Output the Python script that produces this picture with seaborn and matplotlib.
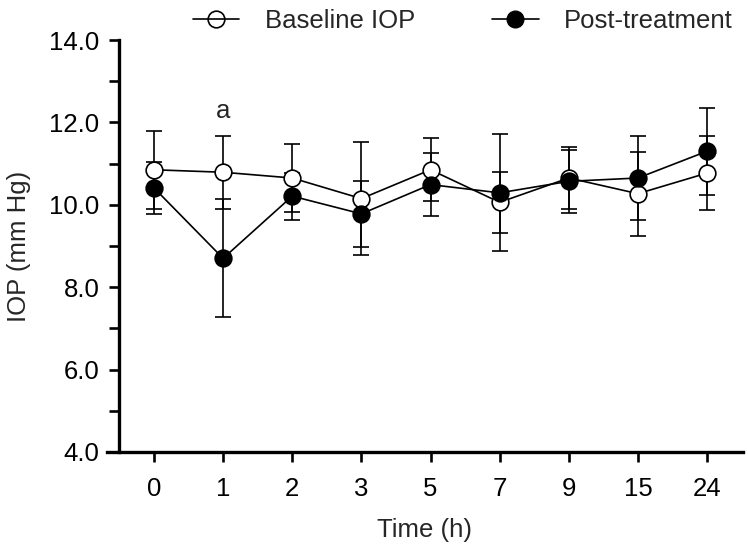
import numpy as np
import pandas as pd
import seaborn as sns
import matplotlib.pyplot as plt
from matplotlib.lines import Line2D
from matplotlib.ticker import MultipleLocator, FormatStrFormatter

# --- data (mean +/- SD) ---
time_labels = ["0", "1", "2", "3", "5", "7", "9", "15", "24"]
baseline_mean = [10.85, 10.79, 10.65, 10.15, 10.85, 10.06, 10.65, 10.27, 10.77]
baseline_sd = [0.95, 0.88, 0.83, 1.38, 0.77, 0.74, 0.75, 1.02, 0.89]
post_mean = [10.41, 8.70, 10.21, 9.78, 10.49, 10.29, 10.57, 10.65, 11.30]
post_sd = [0.64, 1.43, 0.57, 0.80, 0.76, 1.42, 0.77, 1.03, 1.06]
sig_label = "a"
sig_index = 1

df = pd.DataFrame({
    "pos": np.arange(len(time_labels)),
    "Baseline IOP": baseline_mean,
    "Post-treatment": post_mean,
})

sns.set_theme(style="ticks")
plt.rcParams["font.family"] = ["Liberation Sans", "DejaVu Sans"]
plt.rcParams["font.size"] = 18.5

fig = plt.figure(figsize=(7.48, 5.51), dpi=100)
ax = fig.add_axes([0.1430, 0.1797, 0.8503, 0.7477])

lw = 1.2
ms = 12

# error bars first so markers sit on top
ax.errorbar(df["pos"], baseline_mean, yerr=baseline_sd, fmt="none", ecolor="black",
            elinewidth=lw, capsize=6, capthick=lw, zorder=2)
ax.errorbar(df["pos"], post_mean, yerr=post_sd, fmt="none", ecolor="black",
            elinewidth=lw, capsize=6, capthick=lw, zorder=2)

sns.lineplot(data=df, x="pos", y="Baseline IOP", ax=ax, color="black", linewidth=lw,
             marker="o", markersize=ms, markerfacecolor="white", markeredgecolor="black",
             markeredgewidth=lw, zorder=3)
sns.lineplot(data=df, x="pos", y="Post-treatment", ax=ax, color="black", linewidth=lw,
             marker="o", markersize=ms, markerfacecolor="black", markeredgecolor="black",
             markeredgewidth=lw, zorder=4)

ax.text(sig_index, baseline_mean[sig_index] + baseline_sd[sig_index] + 0.6, sig_label,
        ha="center", va="center", fontsize=18.5)

# axes styling
ax.set_xlim(-0.68, 8.52)
ax.set_ylim(4, 14)
ax.set_xticks(df["pos"])
ax.set_xticklabels(time_labels)
ax.yaxis.set_major_locator(MultipleLocator(2))
ax.yaxis.set_minor_locator(MultipleLocator(1))
ax.yaxis.set_major_formatter(FormatStrFormatter("%.1f"))

for side in ["top", "right"]:
    ax.spines[side].set_visible(False)
ax.spines["left"].set_position(("data", -0.507))
for side in ["left", "bottom"]:
    ax.spines[side].set_linewidth(2.4)
    ax.spines[side].set_color("black")

ax.tick_params(axis="both", which="both", direction="out", length=7, width=1.9,
               color="black", labelsize=18.5, labelcolor="black")
ax.tick_params(axis="y", pad=7)
ax.tick_params(axis="x", pad=11)

ax.set_xlabel("Time (h)", fontsize=18.5, labelpad=12)
ax.set_ylabel("IOP (mm Hg)", fontsize=18.5, labelpad=13)

# legend above the axes, line through the open marker like the original
handles = [
    Line2D([], [], color="black", linewidth=lw, marker="o", markersize=ms,
           markerfacecolor="none", markeredgecolor="black", markeredgewidth=lw),
    Line2D([], [], color="black", linewidth=lw, marker="o", markersize=ms,
           markerfacecolor="black", markeredgecolor="black"),
]
fig.legend(handles, ["Baseline IOP", "Post-treatment"], loc="center",
           bbox_to_anchor=(0.619, 0.962), ncol=2, frameon=False, fontsize=18.5,
           handlelength=1.8, handletextpad=1.0, columnspacing=3.0)

fig.savefig("out.png", dpi=100)
